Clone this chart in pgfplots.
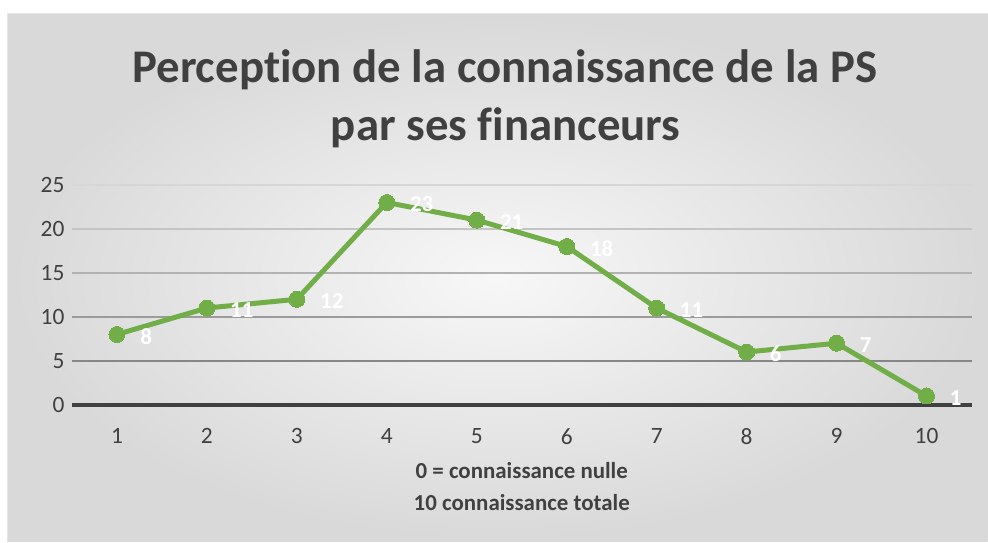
\documentclass[border=0pt]{standalone}
\usepackage{pgfplots}
\pgfplotsset{compat=1.18}
\usepackage{fontspec}
\setmainfont{Carlito}[Ligatures=NoCommon]
\definecolor{lgreen}{RGB}{114,174,72}
\definecolor{txt}{RGB}{64,64,64}
\begin{document}
\begin{tikzpicture}[x=1bp,y=1bp]
\fill[white] (0,0) rectangle (988,542);
\shade[inner color=gray!6, outer color=gray!30] (8,0) rectangle (988,528);
\draw[gray!20, line width=1bp] (8,0) -- (8,528) -- (988,528);
\node[font=\bfseries\fontsize{47}{47}\selectfont, text=txt] at (505,472) {Perception de la connaissance de la PS};
\node[font=\bfseries\fontsize{47}{47}\selectfont, text=txt] at (506,414) {par ses financeurs};
\node[font=\bfseries\fontsize{23}{23}\selectfont, text=txt] at (522,71) {0 = connaissance nulle};
\node[font=\bfseries\fontsize{23}{23}\selectfont, text=txt] at (522,39) {10 connaissance totale};
\begin{axis}[
  at={(72bp,137bp)}, anchor=south west, scale only axis,
  width=900bp, height=220bp,
  xmin=0.5, xmax=10.5, ymin=0, ymax=25,
  xtick={1,2,3,4,5,6,7,8,9,10}, ytick={0,5,10,15,20,25},
  axis line style={draw=none}, major tick length=0pt,
  tick label style={font=\fontsize{23.5}{23.5}\selectfont, text=txt},
  /pgf/number format/assume math mode=true,
  yticklabel style={xshift=-4bp},
  xticklabel style={yshift=-20bp},
  clip=false,
]
\draw[color={rgb,255:red,214;green,214;blue,214}, line width=2bp] (axis cs:0.5,25) -- (axis cs:10.5,25);
\draw[color={rgb,255:red,196;green,196;blue,196}, line width=2bp] (axis cs:0.5,20) -- (axis cs:10.5,20);
\draw[color={rgb,255:red,178;green,178;blue,178}, line width=2bp] (axis cs:0.5,15) -- (axis cs:10.5,15);
\draw[color={rgb,255:red,155;green,155;blue,155}, line width=2bp] (axis cs:0.5,10) -- (axis cs:10.5,10);
\draw[color={rgb,255:red,135;green,135;blue,135}, line width=2bp] (axis cs:0.5,5) -- (axis cs:10.5,5);
\draw[color=txt, line width=3.5bp] (axis cs:0.5,0) -- (axis cs:10.5,0);
\addplot[color=lgreen, line width=5bp, mark=*, mark size=8bp,
  mark options={fill=lgreen, draw=lgreen, line width=0pt},
  nodes near coords,
  every node near coord/.append style={anchor=west, xshift=20bp, yshift=-2bp, text=white,
    font=\bfseries\fontsize{23}{23}\selectfont},
] coordinates {(1,8) (2,11) (3,12) (4,23) (5,21) (6,18) (7,11) (8,6) (9,7) (10,1)};
\end{axis}
\end{tikzpicture}
\end{document}
